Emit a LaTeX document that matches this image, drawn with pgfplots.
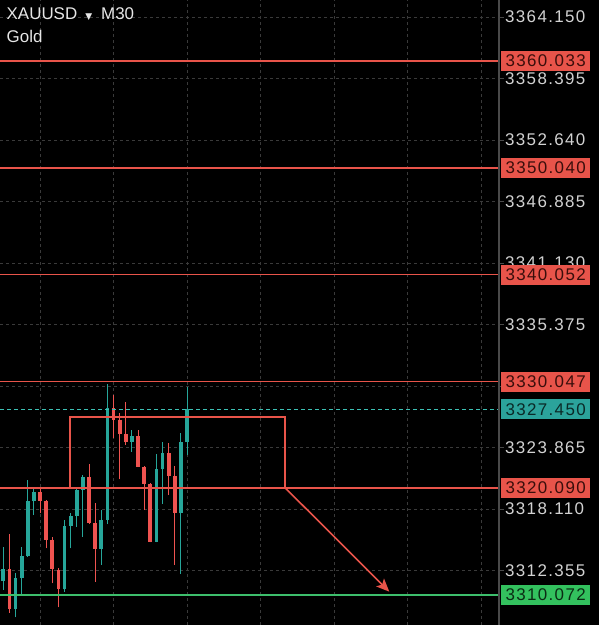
\documentclass[border=0pt]{standalone}
\usepackage{fontspec}
\setmainfont{Liberation Sans}
\newfontfamily\pricefont[LetterSpace=8]{Liberation Sans}
\newfontfamily\symfont{DejaVu Sans}
\usepackage{pgfplots}
\pgfplotsset{compat=1.18}
\usetikzlibrary{arrows.meta}
\definecolor{bull}{HTML}{26A69A}
\definecolor{bear}{HTML}{EF5350}
\definecolor{lvlred}{HTML}{E8544A}
\definecolor{lvlgreen}{HTML}{3DBE6C}
\definecolor{boxgreen}{HTML}{33C15E}
\definecolor{boxteal}{HTML}{2BA39B}
\definecolor{dashteal}{HTML}{3CC0B4}
\definecolor{gridc}{HTML}{3A3A3A}
\definecolor{axisc}{HTML}{4A4A4A}
\definecolor{lbl}{HTML}{D2D2D2}
\definecolor{ttl}{HTML}{E6E6E6}
\definecolor{txtred}{HTML}{3A0E0B}
\definecolor{txtteal}{HTML}{0A2A28}
\definecolor{txtgreen}{HTML}{0B2C14}
\begin{document}
\begin{tikzpicture}
\path[use as bounding box, fill=black] (0,0) rectangle (599bp,625bp);
\begin{axis}[at={(0,0)}, anchor=south west, scale only axis,
  width=499bp, height=625bp,
  xmin=0.4612, xmax=81.93, ymin=3307.273, ymax=3365.739,
  clip=false,
  axis line style={draw=none},
  xtick={7,19,31,43,55,67,79}, xticklabels={}, xtick style={draw=none},
  xmajorgrids, ymajorgrids,
  grid style={gridc, dash pattern=on 3bp off 3bp, line width=0.8bp},
  ytick={3312.355,3318.110,3323.865,3329.620,3335.375,3341.130,3346.885,3352.640,3358.395,3364.150},
  yticklabels={3312.355,3318.110,3323.865,{},3335.375,3341.130,3346.885,3352.640,3358.395,3364.150},
  ytick pos=right, yticklabel pos=right,
  tick align=outside, major tick length=5bp,
  ytick style={draw=axisc, line width=0.8bp},
  yticklabel style={font=\pricefont\fontsize{17}{17}\selectfont, text=lbl, inner sep=1bp},
  unbounded coords=jump,
]
% bullish wicks
\addplot[bull, line width=1.1bp] coordinates {
(1,3310.55)(1,3314.60)(1,nan)
(3,3307.99)(3,3312.17)(3,nan)
(4,3310.08)(4,3314.60)(4,nan)
(5,3313.66)(5,3320.84)(5,nan)
(6,3317.56)(6,3320.21)(6,nan)
(11,3310.39)(11,3317.10)(11,nan)
(12,3314.45)(12,3317.72)(12,nan)
(13,3316.47)(13,3320.21)(13,nan)
(14,3315.53)(14,3321.31)(14,nan)
(17,3312.89)(17,3318.03)(17,nan)
(18,3316.72)(18,3329.82)(18,nan)
(22,3323.49)(22,3325.52)(22,nan)
(26,3315.01)(26,3323.27)(26,nan)
(27,3318.59)(27,3324.42)(27,nan)
(30,3312.04)(30,3325.21)(30,nan)
(31,3323.18)(31,3329.57)};
% bullish bodies
\addplot[bull, line width=3.8bp] coordinates {
(1,3311.39)(1,3312.48)(1,nan)
(3,3308.74)(3,3311.64)(3,nan)
(4,3311.64)(4,3313.73)(4,nan)
(5,3313.73)(5,3318.87)(5,nan)
(6,3318.87)(6,3319.69)(6,nan)
(11,3310.61)(11,3316.53)(11,nan)
(12,3316.53)(12,3317.47)(12,nan)
(13,3317.47)(13,3319.90)(13,nan)
(14,3319.90)(14,3321.09)(14,nan)
(17,3314.36)(17,3317.10)(17,nan)
(18,3317.10)(18,3327.55)(18,nan)
(22,3324.42)(22,3324.95)(22,nan)
(26,3315.07)(26,3321.84)(26,nan)
(27,3321.84)(27,3323.34)(27,nan)
(30,3317.72)(30,3324.36)(30,nan)
(31,3324.36)(31,3327.45)};
% bearish wicks
\addplot[bear, line width=1.1bp] coordinates {
(2,3308.42)(2,3315.79)(2,nan)
(7,3317.72)(7,3320.06)(7,nan)
(8,3314.45)(8,3318.97)(8,nan)
(9,3311.17)(9,3315.53)(9,nan)
(10,3308.93)(10,3312.58)(10,nan)
(15,3316.72)(15,3322.33)(15,nan)
(16,3311.32)(16,3318.71)(16,nan)
(19,3324.74)(19,3328.79)(19,nan)
(20,3320.90)(20,3327.08)(20,nan)
(21,3324.11)(21,3328.16)(21,nan)
(23,3322.03)(23,3325.52)(23,nan)
(24,3318.03)(24,3322.15)(24,nan)
(25,3315.01)(25,3320.53)(25,nan)
(28,3319.43)(28,3324.27)(28,nan)
(29,3312.89)(29,3322.15)};
% bearish bodies
\addplot[bear, line width=3.8bp] coordinates {
(2,3312.48)(2,3308.74)(2,nan)
(7,3319.69)(7,3318.87)(7,nan)
(8,3318.87)(8,3315.23)(8,nan)
(9,3315.23)(9,3312.48)(9,nan)
(10,3312.42)(10,3310.61)(10,nan)
(15,3321.09)(15,3316.79)(15,nan)
(16,3316.79)(16,3314.36)(16,nan)
(19,3327.55)(19,3326.45)(19,nan)
(20,3326.45)(20,3325.14)(20,nan)
(21,3325.14)(21,3324.42)(21,nan)
(23,3324.95)(23,3322.08)(23,nan)
(24,3322.08)(24,3320.46)(24,nan)
(25,3320.46)(25,3315.07)(25,nan)
(28,3323.34)(28,3321.21)(28,nan)
(29,3321.21)(29,3317.72)};
% level lines
\addplot[lvlred, line width=1.6bp] coordinates {(0.4612,3360.033)(81.93,3360.033)};
\addplot[lvlred, line width=1.6bp] coordinates {(0.4612,3350.040)(81.93,3350.040)};
\addplot[lvlred, line width=1.6bp] coordinates {(0.4612,3340.052)(81.93,3340.052)};
\addplot[lvlred, line width=1.6bp] coordinates {(0.4612,3330.047)(81.93,3330.047)};
\addplot[lvlred, line width=1.6bp] coordinates {(0.4612,3320.090)(81.93,3320.090)};
\addplot[lvlgreen, line width=1.6bp] coordinates {(0.4612,3310.072)(81.93,3310.072)};
\addplot[dashteal, line width=1.3bp, dash pattern=on 4bp off 3bp] coordinates {(0.4612,3327.450)(81.93,3327.450)};
% box and arrow
\addplot[lvlred, line width=1.7bp] coordinates {(11.89,3320.09)(11.89,3326.70)(47.04,3326.70)(47.04,3320.09)};
\addplot[lvlred, line width=1.6bp, -{Stealth[length=13bp,width=11bp,inset=3bp]}] coordinates {(47.04,3320.09)(64.02,3310.39)};
\draw[axisc, line width=1.2bp] (rel axis cs:1,0) -- (rel axis cs:1,1);
\coordinate (p1) at (axis cs:81.93,3360.033);
\coordinate (p2) at (axis cs:81.93,3350.040);
\coordinate (p3) at (axis cs:81.93,3340.052);
\coordinate (p4) at (axis cs:81.93,3330.047);
\coordinate (p5) at (axis cs:81.93,3327.450);
\coordinate (p6) at (axis cs:81.93,3320.090);
\coordinate (p7) at (axis cs:81.93,3310.072);
\end{axis}
\tikzset{pbox/.style={anchor=west, minimum width=89.5bp, minimum height=20bp, inner sep=0pt, font=\pricefont\fontsize{17}{17}\selectfont, xshift=1.7bp}}
\node[pbox, fill=lvlred, text=txtred] at (p1) {3360.033};
\node[pbox, fill=lvlred, text=txtred] at (p2) {3350.040};
\node[pbox, fill=lvlred, text=txtred] at (p3) {3340.052};
\node[pbox, fill=lvlred, text=txtred] at (p4) {3330.047};
\node[pbox, fill=boxteal, text=txtteal] at (p5) {3327.450};
\node[pbox, fill=lvlred, text=txtred] at (p6) {3320.090};
\node[pbox, fill=boxgreen, text=txtgreen] at (p7) {3310.072};
\node[anchor=base west, text=ttl, font=\fontsize{17}{17}\selectfont, inner sep=0pt] at (6.5bp,605bp) {XAUUSD\hspace{8bp}{\symfont\fontsize{9}{9}\selectfont ▼}\hspace{9bp}M30};
\node[anchor=base west, text=ttl, font=\fontsize{17}{17}\selectfont, inner sep=0pt] at (6.5bp,582bp) {Gold};
\end{tikzpicture}
\end{document}
